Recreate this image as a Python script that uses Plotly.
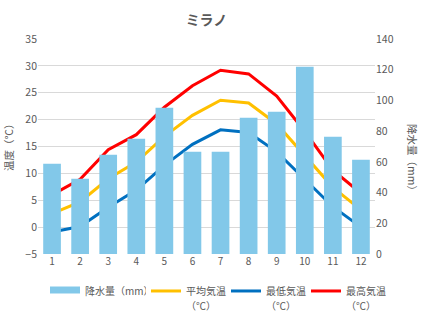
import plotly.graph_objects as go

months = ["1", "2", "3", "4", "5", "6", "7", "8", "9", "10", "11", "12"]
precip_mm = [58.8, 49.0, 64.7, 75.1, 95.3, 66.6, 66.6, 88.8, 92.7, 122.0, 76.4, 61.4]
temp_mean = [2.5, 4.7, 9.0, 12.1, 16.9, 20.8, 23.6, 23.1, 19.2, 13.3, 7.4, 3.2]
temp_min = [-0.9, 0.1, 3.7, 6.9, 11.5, 15.4, 18.1, 17.6, 14.0, 8.9, 3.8, 0.0]
temp_max = [6.0, 8.9, 14.4, 17.2, 22.3, 26.3, 29.2, 28.5, 24.4, 17.8, 10.6, 6.3]

FONT = "Noto Sans CJK JP, Noto Sans, sans-serif"
GREY = "#595959"
BAR = "#82C8E9"
W, H = 426, 322
PW, PH, L, T = 337, 215, 38, 39


def two_line(a, b):
    return f"<span style='font-size:10px'>{a}</span><br><span style='font-size:10px'>{b}</span>"


fig = go.Figure()
fig.add_trace(go.Bar(x=months, y=precip_mm, name="降水量（mm）", yaxis="y2",
                     marker=dict(color=BAR, line=dict(width=0)), showlegend=False))
# legend entry for precipitation (wide bar swatch like the reference)
fig.add_trace(go.Scatter(x=[None], y=[None], name="降水量（mm）", mode="lines",
                         line=dict(color=BAR, width=7), legend="legend"))
fig.add_trace(go.Scatter(x=months, y=temp_mean, name=two_line("平均気温", "（℃）"), mode="lines",
                         line=dict(color="#FFC000", width=3), legend="legend2"))
fig.add_trace(go.Scatter(x=months, y=temp_min, name=two_line("最低気温", "（℃）"), mode="lines",
                         line=dict(color="#0070C0", width=3), legend="legend2"))
fig.add_trace(go.Scatter(x=months, y=temp_max, name=two_line("最高気温", "（℃）"), mode="lines",
                         line=dict(color="#FF0000", width=3), legend="legend2"))

leg_y = 1 - 277 / H
fig.update_layout(
    width=W, height=H,
    margin=dict(l=L, r=W - L - PW, t=T, b=H - T - PH, autoexpand=False),
    paper_bgcolor="white", plot_bgcolor="white",
    font=dict(family=FONT, size=10, color=GREY),
    title=dict(text="<b>ミラノ</b>", x=0.5, xref="paper", xanchor="center",
               y=1 - 20 / H, yanchor="middle", font=dict(size=14, color=GREY)),
    bargap=0.37,
    showlegend=True,
    legend=dict(orientation="h", xref="container", yref="container", x=45 / W,
                xanchor="left", y=leg_y, yanchor="top",
                valign="top", itemwidth=30, font=dict(size=10, color=GREY)),
    legend2=dict(orientation="h", xref="container", yref="container", x=146 / W,
                 xanchor="left", y=leg_y, yanchor="top",
                 valign="top", itemwidth=30, entrywidth=35, entrywidthmode="pixels",
                 font=dict(size=11.5, color=GREY)),
    xaxis=dict(type="category", showgrid=False, showline=False, ticks="", automargin=False,
               tickfont=dict(size=10, color=GREY)),
    yaxis=dict(range=[-5, 35], dtick=5, tick0=-5, showgrid=True, gridcolor="#D9D9D9",
               gridwidth=1, zeroline=False, showline=False, ticks="", automargin=False,
               tickfont=dict(size=10.5, color=GREY)),
    yaxis2=dict(range=[0, 140], dtick=20, overlaying="y", side="right", showgrid=False,
                zeroline=False, showline=False, ticks="", automargin=False,
                tickfont=dict(size=10.5, color=GREY)),
    annotations=[
        dict(text="温度（℃）", xref="paper", yref="paper", x=(8 - L) / PW, y=(254 - 144) / PH,
             xanchor="center", yanchor="middle", textangle=-90, showarrow=False,
             font=dict(size=10.5, color=GREY)),
        dict(text="降水量（mm）", xref="paper", yref="paper", x=(413 - L) / PW,
             y=(254 - 160) / PH, xanchor="center", yanchor="middle", textangle=90,
             showarrow=False, font=dict(size=10.5, color=GREY)),
    ],
)

fig.write_html("out.html")
